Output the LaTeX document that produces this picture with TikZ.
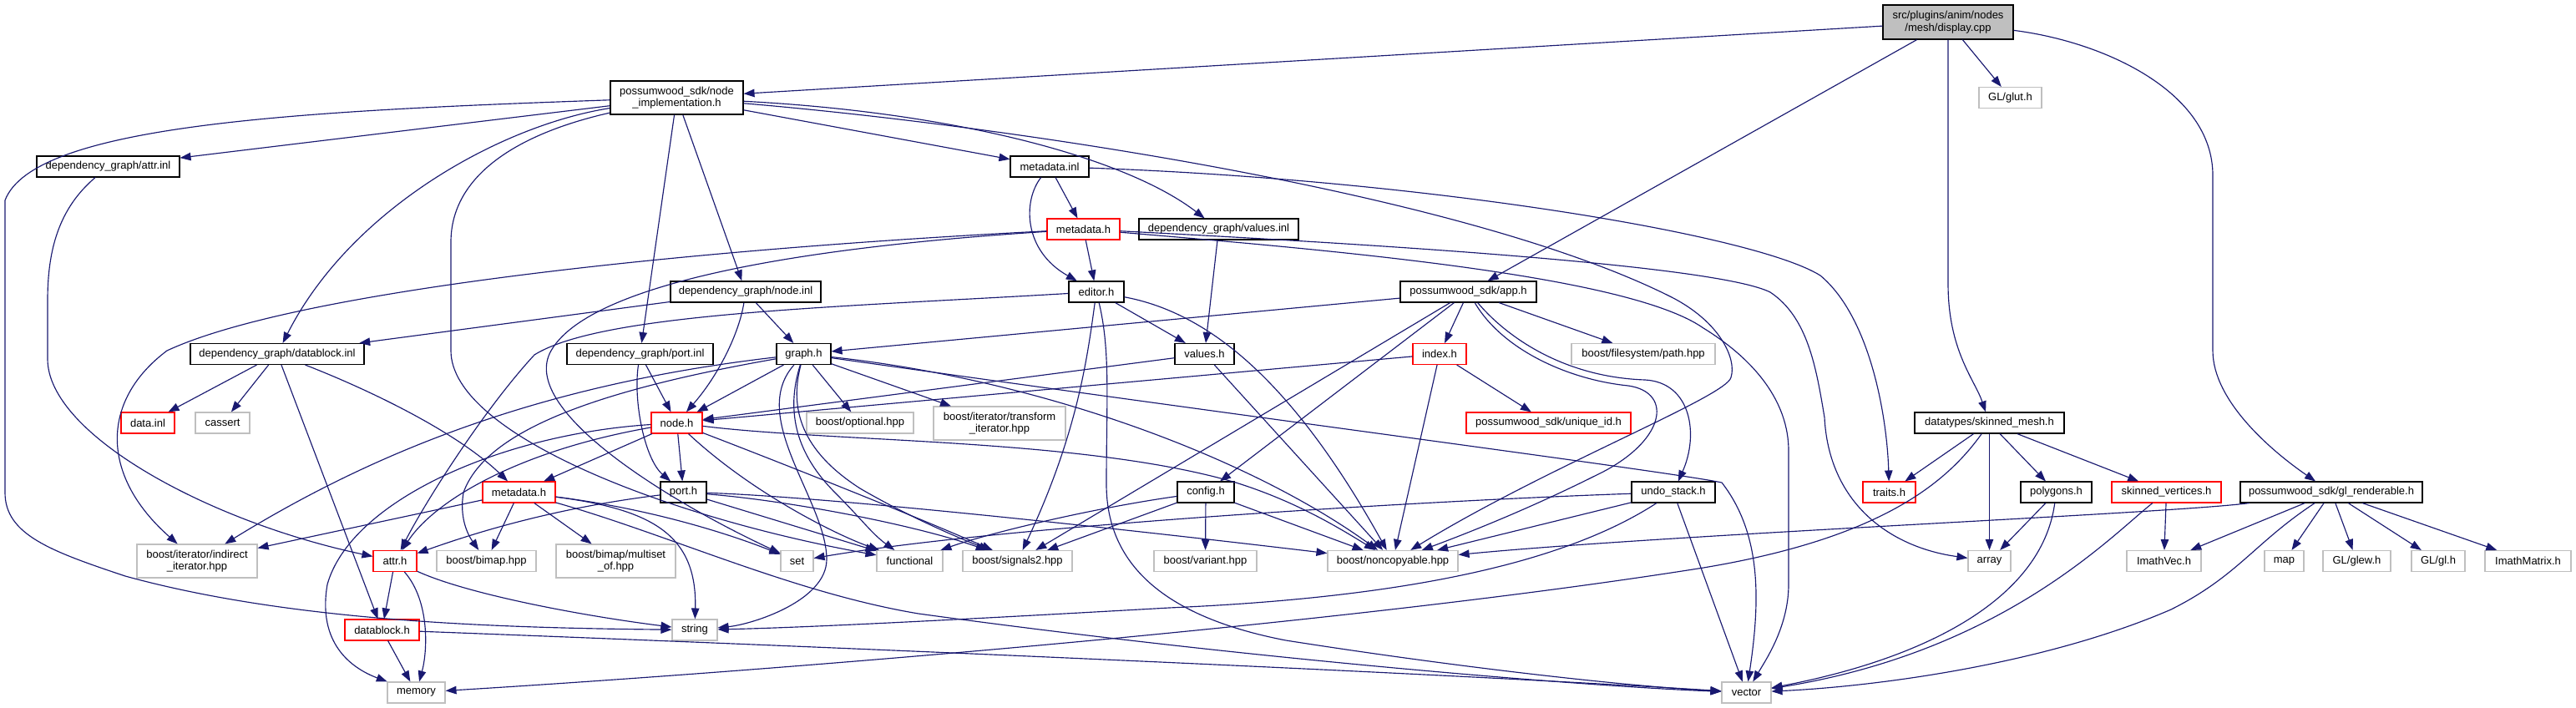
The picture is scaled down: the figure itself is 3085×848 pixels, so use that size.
\documentclass[tikz,border=0pt]{standalone}
\usepackage{fontspec}
\setmainfont{Liberation Sans}
\usetikzlibrary{arrows.meta}
\definecolor{edgeblue}{HTML}{191970}
\definecolor{lgray}{HTML}{BFBFBF}
\definecolor{rootfill}{HTML}{BFBFBF}
\definecolor{nred}{HTML}{FF0000}
\newcommand{\nodefnt}{\fontsize{13}{14.7}\selectfont}
\begin{document}
\begin{tikzpicture}[x=1pt,y=-1pt,
  nb/.style={draw=black, fill=white, line width=1.1pt, inner sep=0pt, minimum height=25pt, align=center, font=\nodefnt},
  gb/.style={nb, draw=lgray},
  rb/.style={nb, draw=nred},
  edge/.style={draw=edgeblue, line width=1.15pt, -{Triangle[length=13pt,width=9.5pt,fill=edgeblue]}}]
\useasboundingbox (0,0) rectangle (3085,848);

% nodes
\node[nb, fill=rootfill, minimum width=156pt, minimum height=41pt] (D) at (2333,26.5) {src/plugins/anim/nodes\\/mesh/display.cpp};
\node[gb, minimum width=75pt] (glut) at (2407.5,117) {GL/glut.h};
\node[nb, minimum width=159pt, minimum height=40pt] (NI) at (810.5,117) {possumwood\_sdk/node\\\_implementation.h};
\node[nb, minimum width=171pt] (attrinl) at (129.5,199.5) {dependency\_graph/attr.inl};
\node[nb, minimum width=94pt] (mdinl) at (1257,199.5) {metadata.inl};
\node[rb, minimum width=87pt] (M1) at (1297.5,274.5) {metadata.h};
\node[nb, minimum width=191pt] (valinl) at (1459.5,274.5) {dependency\_graph/values.inl};
\node[nb, minimum width=180pt] (nodeinl) at (893,349.5) {dependency\_graph/node.inl};
\node[nb, minimum width=66pt] (editor) at (1313,349.5) {editor.h};
\node[nb, minimum width=163pt] (app) at (1758.5,349.5) {possumwood\_sdk/app.h};
\node[nb, minimum width=208pt] (dbinl) at (332,424) {dependency\_graph/datablock.inl};
\node[nb, minimum width=175pt] (portinl) at (766.5,424) {dependency\_graph/port.inl};
\node[nb, minimum width=65pt] (graph) at (962.5,424) {graph.h};
\node[nb, minimum width=71pt] (values) at (1442.5,424) {values.h};
\node[rb, minimum width=64pt] (index) at (1724,424) {index.h};
\node[gb, minimum width=172pt] (fspath) at (1968,424) {boost/filesystem/path.hpp};
\node[rb, minimum width=64pt] (datainl) at (177,506.5) {data.inl};
\node[gb, minimum width=65pt] (cassert) at (266.5,506.5) {cassert};
\node[rb, minimum width=61pt] (nodeh) at (810.5,506.5) {node.h};
\node[gb, minimum width=128pt] (optional) at (1030,506.5) {boost/optional.hpp};
\node[gb, minimum width=158pt, minimum height=40pt] (transform) at (1197,507) {boost/iterator/transform\\\_iterator.hpp};
\node[rb, minimum width=197pt] (uniqueid) at (1854.5,506.5) {possumwood\_sdk/unique\_id.h};
\node[nb, minimum width=179pt] (skmesh) at (2382.5,506.5) {datatypes/skinned\_mesh.h};
\node[rb, minimum width=87pt] (M2) at (621.5,589.5) {metadata.h};
\node[nb, minimum width=55pt] (porth) at (818.5,589.5) {port.h};
\node[nb, minimum width=68pt] (config) at (1444,589.5) {config.h};
\node[nb, minimum width=100pt] (undo) at (2004,589.5) {undo\_stack.h};
\node[rb, minimum width=63pt] (traits) at (2262.5,589.5) {traits.h};
\node[nb, minimum width=85pt] (polygons) at (2462.5,589.5) {polygons.h};
\node[rb, minimum width=131pt] (skverts) at (2594.5,589.5) {skinned\_vertices.h};
\node[nb, minimum width=218pt] (glrend) at (2792,589.5) {possumwood\_sdk/gl\_renderable.h};
\node[gb, minimum width=144pt, minimum height=40pt] (indirect) at (236,672) {boost/iterator/indirect\\\_iterator.hpp};
\node[rb, minimum width=52pt] (attrh) at (473,672) {attr.h};
\node[gb, minimum width=119pt] (bimap) at (582.5,672) {boost/bimap.hpp};
\node[gb, minimum width=143pt, minimum height=40pt] (multiset) at (737.5,672) {boost/bimap/multiset\\\_of.hpp};
\node[gb, minimum width=39pt] (set) at (954.5,672) {set};
\node[gb, minimum width=79pt] (functional) at (1089.5,672) {functional};
\node[gb, minimum width=131pt] (signals) at (1218.5,672) {boost/signals2.hpp};
\node[gb, minimum width=123pt] (variant) at (1443.5,672) {boost/variant.hpp};
\node[gb, minimum width=156pt] (noncopy) at (1668,672) {boost/noncopyable.hpp};
\node[gb, minimum width=51pt] (array) at (2382.5,672) {array};
\node[gb, minimum width=89pt] (imathvec) at (2591.5,672) {ImathVec.h};
\node[gb, minimum width=47pt] (map) at (2735.5,672) {map};
\node[gb, minimum width=81pt] (glew) at (2822.5,672) {GL/glew.h};
\node[gb, minimum width=64pt] (gl) at (2920,672) {GL/gl.h};
\node[gb, minimum width=103pt] (imathmatrix) at (3027.5,672) {ImathMatrix.h};
\node[rb, minimum width=89pt] (datablockh) at (457.5,754.5) {datablock.h};
\node[gb, minimum width=54pt] (string) at (832,754.5) {string};
\node[gb, minimum width=69pt] (memory) at (498.5,829.5) {memory};
\node[gb, minimum width=59pt] (vector) at (2091.5,829.5) {vector};

% display.cpp
\draw[edge] (D) -- (NI);
\draw[edge] (D) -- (glut);
\draw[edge] (D) -- (app);
\draw[edge] (D.south) -- (2333,340) .. controls (2333,420) and (2365,455) .. (skmesh);
\draw[edge] (D) .. controls (2520,50) and (2650,110) .. (2650,210) -- (2650,420) .. controls (2650,480) and (2720,540) .. (glrend);

% node_implementation.h
\draw[edge] (NI) .. controls (350,133) and (40,150) .. (6,240) -- (6,590) .. controls (6,640) and (60,660) .. (150,690) .. controls (350,745) and (600,752) .. (string);
\draw[edge] (NI) -- (attrinl);
\draw[edge] (NI) .. controls (600,150) and (420,250) .. (dbinl);
\draw[edge] (NI) .. controls (620,160) and (540,210) .. (540,290) -- (540,420) .. controls (540,520) and (800,620) .. (functional);
\draw[edge] (NI) -- (portinl);
\draw[edge] (NI) -- (nodeinl);
\draw[edge] (NI) -- (mdinl);
\draw[edge] (NI) .. controls (1150,135) and (1350,190) .. (valinl);
\draw[edge] (NI) .. controls (1200,150) and (1750,230) .. (2000,355) .. controls (2060,385) and (2080,430) .. (2073,452) .. controls (2068,475) and (1850,560) .. (noncopy);

% attr.inl
\draw[edge] (attrinl) .. controls (70,250) and (57,300) .. (57,360) -- (57,430) .. controls (57,520) and (250,625) .. (attrh);

% metadata.inl
\draw[edge] (mdinl) -- (M1);
\draw[edge] (mdinl) .. controls (1225,240) and (1225,300) .. (editor);
\draw[edge] (mdinl) .. controls (1700,215) and (2100,280) .. (2180,330) .. controls (2240,380) and (2260,500) .. (traits);

% metadata.h (1)
\draw[edge] (M1) -- (editor);
\draw[edge] (M1) .. controls (800,300) and (350,350) .. (200,420) .. controls (120,480) and (120,570) .. (indirect);
\draw[edge] (M1) .. controls (900,300) and (700,350) .. (660,420) .. controls (620,490) and (800,600) .. (set);
\draw[edge] (M1) .. controls (1700,295) and (2060,320) .. (2120,350) .. controls (2165,380) and (2175,440) .. (2185,500) .. controls (2190,600) and (2260,655) .. (array);
\draw[edge] (M1) .. controls (1600,300) and (1950,330) .. (2040,393) .. controls (2100,430) and (2142,480) .. (2142,540) -- (2142,700) .. controls (2142,750) and (2115,790) .. (vector);

% values.inl
\draw[edge] (valinl) -- (values);

% node.inl
\draw[edge] (nodeinl) -- (graph);
\draw[edge] (nodeinl) .. controls (885,400) and (860,450) .. (nodeh);
\draw[edge] (nodeinl) -- (dbinl);

% editor.h
\draw[edge] (editor) -- (values);
\draw[edge] (editor) .. controls (1450,375) and (1550,460) .. (noncopy);
\draw[edge] (editor) .. controls (1302,430) and (1290,520) .. (signals);
\draw[edge] (editor) .. controls (1330,420) and (1325,480) .. (1325,580) .. controls (1325,680) and (1400,740) .. (1540,767) .. controls (1750,800) and (1950,822) .. (vector);
\draw[edge] (editor) .. controls (1000,368) and (720,375) .. (640,425) .. controls (580,490) and (510,600) .. (attrh);

% app.h
\draw[edge] (app) -- (graph);
\draw[edge] (app) -- (index);
\draw[edge] (app) -- (fspath);
\draw[edge] (app) -- (signals);
\draw[edge] (app) -- (config);
\draw[edge] (app) .. controls (1800,420) and (1880,455) .. (1950,462) .. controls (2005,470) and (1995,530) .. (1910,570) .. controls (1820,615) and (1740,645) .. (noncopy);
\draw[edge] (app) .. controls (1810,410) and (1880,452) .. (1970,455) .. controls (2025,458) and (2035,520) .. (undo);

% index.h
\draw[edge] (index) -- (uniqueid);
\draw[edge] (index) -- (noncopy);
\draw[edge] (index) -- (nodeh);

% values.h
\draw[edge] (values) -- (nodeh);
\draw[edge] (values) -- (noncopy);

% datablock.inl
\draw[edge] (dbinl) -- (datainl);
\draw[edge] (dbinl) -- (cassert);
\draw[edge] (dbinl) -- (datablockh);
\draw[edge] (dbinl) .. controls (450,470) and (550,520) .. (M2);

% port.inl
\draw[edge] (portinl) -- (nodeh);
\draw[edge] (portinl) .. controls (758,480) and (772,550) .. (porth);

% graph.h
\draw[edge] (graph) -- (nodeh);
\draw[edge] (graph) -- (optional);
\draw[edge] (graph) -- (transform);
\draw[edge] (graph) .. controls (650,460) and (450,540) .. (indirect);
\draw[edge] (graph) .. controls (700,470) and (580,520) .. (555,590) .. controls (550,620) and (560,640) .. (bimap);
\draw[edge] (graph) .. controls (1500,500) and (2000,565) .. (2062,578) .. controls (2110,640) and (2108,720) .. (vector);
\draw[edge] (graph) .. controls (1250,455) and (1500,550) .. (noncopy);
\draw[edge] (graph) .. controls (945,490) and (960,540) .. (1030,585) .. controls (1090,620) and (1150,645) .. (signals);
\draw[edge] (graph) .. controls (940,495) and (955,545) .. (1000,590) .. controls (1030,620) and (1045,640) .. (functional);
\draw[edge] (graph) .. controls (895,500) and (990,600) .. (990,670) .. controls (990,720) and (900,748) .. (string);

% node.h
\draw[edge] (nodeh) -- (M2);
\draw[edge] (nodeh) -- (porth);
\draw[edge] (nodeh) .. controls (620,540) and (520,600) .. (attrh);
\draw[edge] (nodeh) .. controls (600,520) and (420,600) .. (392,700) .. controls (380,770) and (420,800) .. (memory);
\draw[edge] (nodeh) .. controls (1000,530) and (1300,525) .. (1480,578) .. controls (1550,600) and (1600,630) .. (noncopy);
\draw[edge] (nodeh) .. controls (950,560) and (1100,620) .. (signals);
\draw[edge] (nodeh) .. controls (900,590) and (1000,640) .. (functional);

% port.h
\draw[edge] (porth) .. controls (650,610) and (550,645) .. (attrh);
\draw[edge] (porth) .. controls (1000,595) and (1400,640) .. (noncopy);
\draw[edge] (porth) .. controls (950,600) and (1100,630) .. (signals);
\draw[edge] (porth) -- (functional);

% config.h
\draw[edge] (config) -- (signals);
\draw[edge] (config) -- (variant);
\draw[edge] (config) .. controls (1300,610) and (1180,640) .. (functional);
\draw[edge] (config) -- (noncopy);

% undo_stack.h
\draw[edge] (undo) -- (noncopy);
\draw[edge] (undo) .. controls (1700,600) and (1200,630) .. (set);
\draw[edge] (undo) .. controls (1880,670) and (1700,715) .. (1400,728) .. controls (1100,745) and (950,752) .. (string);
\draw[edge] (undo) -- (vector);

% skinned_mesh.h
\draw[edge] (skmesh) -- (traits);
\draw[edge] (skmesh) -- (array);
\draw[edge] (skmesh) -- (polygons);
\draw[edge] (skmesh) -- (skverts);
\draw[edge] (skmesh) .. controls (2330,580) and (2250,645) .. (2040,680) .. controls (1600,750) and (900,805) .. (memory);

% polygons.h
\draw[edge] (polygons) -- (array);
\draw[edge] (polygons) .. controls (2445,720) and (2300,790) .. (vector);

% skinned_vertices.h
\draw[edge] (skverts) -- (imathvec);
\draw[edge] (skverts) .. controls (2530,640) and (2400,780) .. (vector);

% gl_renderable.h
\draw[edge] (glrend) .. controls (2600,615) and (2000,640) .. (noncopy);
\draw[edge] (glrend) -- (imathvec);
\draw[edge] (glrend) -- (map);
\draw[edge] (glrend) -- (glew);
\draw[edge] (glrend) -- (gl);
\draw[edge] (glrend) -- (imathmatrix);
\draw[edge] (glrend) .. controls (2700,650) and (2680,690) .. (2600,730) .. controls (2450,795) and (2250,822) .. (vector);

% metadata.h (2)
\draw[edge] (M2) -- (bimap);
\draw[edge] (M2) -- (multiset);
\draw[edge] (M2) -- (indirect);
\draw[edge] (M2) .. controls (800,612) and (900,650) .. (set);
\draw[edge] (M2) .. controls (780,610) and (835,640) .. (string);
\draw[edge] (M2) .. controls (800,640) and (950,710) .. (1100,735) .. controls (1500,790) and (1900,822) .. (vector);

% datablock.h
\draw[edge] (datablockh) -- (memory);
\draw[edge] (datablockh) .. controls (1000,775) and (1700,805) .. (vector);

% attr.h
\draw[edge] (attrh) -- (datablockh);
\draw[edge] (attrh) .. controls (515,720) and (512,780) .. (memory);
\draw[edge] (attrh) .. controls (560,712) and (700,738) .. (string);
\end{tikzpicture}
\end{document}
